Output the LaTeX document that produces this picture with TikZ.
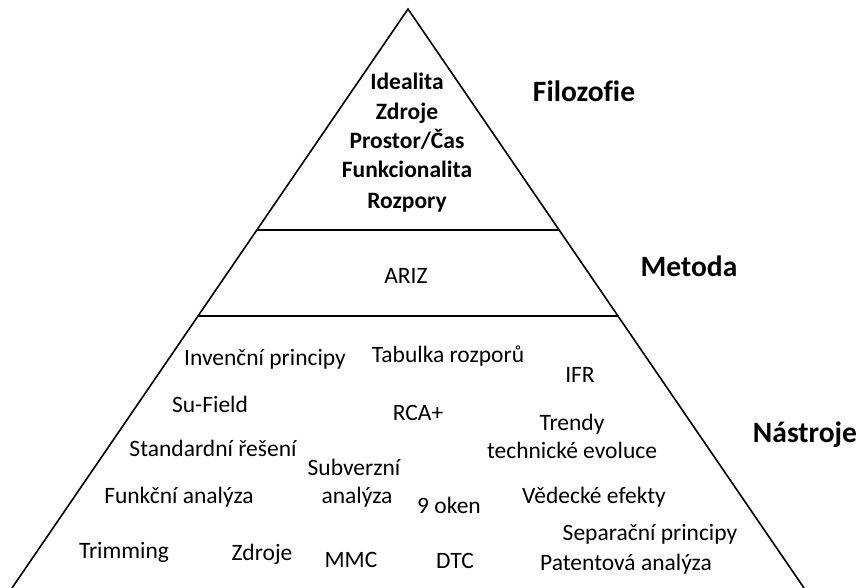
\documentclass[tikz,border=0pt]{standalone}
\usepackage{fontspec}
\setmainfont[Ligatures=NoCommon]{Carlito}
\usetikzlibrary{calc}
\tikzset{
  edge/.style={line width=1.6pt, black},
  item/.style={anchor=base, inner sep=0pt, font=\fontsize{23.5}{28}\selectfont},
  core/.style={item, font=\fontsize{23.5}{28}\selectfont\bfseries},
  level/.style={anchor=base, inner sep=0pt, font=\fontsize{29.5}{34}\selectfont\bfseries}
}
\begin{document}
\begin{tikzpicture}[x=1pt, y=-1pt]
  \useasboundingbox (0,0) rectangle (861,588);
  % pyramid outline
  \coordinate (apex) at (408,9);
  \coordinate (bl) at (12,588);
  \coordinate (br) at (804,588);
  \draw[edge, line join=miter] (bl) -- (apex) -- (br);
  % dividers between the three levels
  \coordinate (d1l) at ($(apex)!0.3817!(bl)$);
  \coordinate (d1r) at ($(apex)!0.3817!(br)$);
  \coordinate (d2l) at ($(apex)!0.5302!(bl)$);
  \coordinate (d2r) at ($(apex)!0.5302!(br)$);
  \draw[edge] (d1l) -- (d1r);
  \draw[edge] (d2l) -- (d2r);

  % level titles
  \node[level] (lfil) at (584,102) {Filozofie};
  \node[level] (lmet) at (689,276) {Metoda};
  \node[level] (lnas) at (805,442) {Nástroje};

  % philosophy
  \node[core] (p1) at (407,90) {Idealita};
  \node[core] (p2) at (407,120) {Zdroje};
  \node[core] (p3) at (407,149) {Prostor/Čas};
  \node[core] (p4) at (407,178) {Funkcionalita};
  \node[core] (p5) at (407,208) {Rozpory};

  % method
  \node[item] (ariz) at (406,283) {ARIZ};

  % tools
  \node[item] (t1) at (265,365) {Invenční principy};
  \node[item] (t2) at (448,362) {Tabulka rozporů};
  \node[item] (t3) at (580,382) {IFR};
  \node[item] (t4) at (210,412) {Su-Field};
  \node[item] (t5) at (418,420) {RCA+};
  \node[item] (t6) at (572,430) {Trendy};
  \node[item] (t7) at (572,458) {technické evoluce};
  \node[item] (t8) at (213,456) {Standardní řešení};
  \node[item] (t9) at (354,475) {Subverzní};
  \node[item] (t10) at (357,503) {analýza};
  \node[item] (t11) at (179,503) {Funkční analýza};
  \node[item] (t12) at (449,513) {9 oken};
  \node[item] (t13) at (594,503) {Vědecké efekty};
  \node[item] (t14) at (650,540) {Separační principy};
  \node[item] (t15) at (626,570) {Patentová analýza};
  \node[item] (t16) at (455,568) {DTC};
  \node[item] (t17) at (124,558) {Trimming};
  \node[item] (t18) at (262,560) {Zdroje};
  \node[item] (t19) at (351,567) {MMC};
\end{tikzpicture}
\end{document}
